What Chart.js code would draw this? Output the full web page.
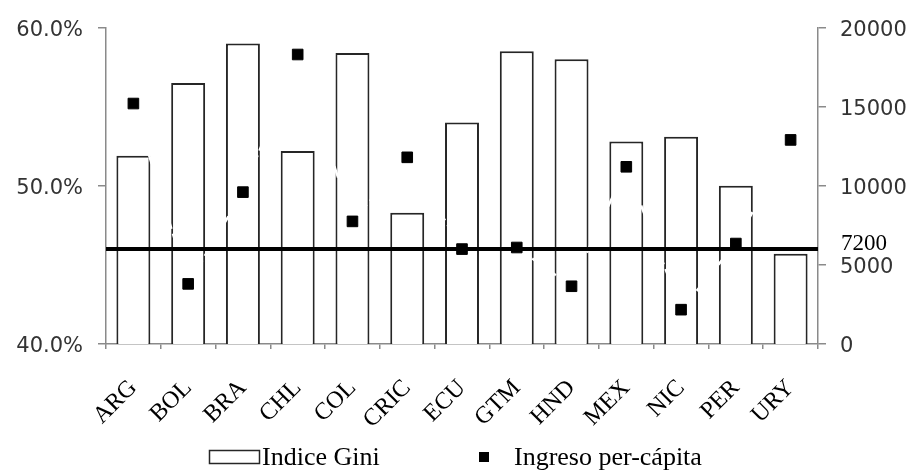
<!DOCTYPE html>
<html>
<head>
<meta charset="utf-8">
<script src="https://cdn.jsdelivr.net/npm/chart.js@4.4.1/dist/chart.umd.min.js"></script>
<style>
  html, body { margin: 0; padding: 0; background: #fff; }
  #wrap { width: 914px; height: 470px; position: relative; }
</style>
</head>
<body>
<div id="wrap"><canvas id="c"></canvas></div>
<script>
// Countries and their indicators
const countries = ['ARG', 'BOL', 'BRA', 'CHL', 'COL', 'CRIC', 'ECU', 'GTM', 'HND', 'MEX', 'NIC', 'PER', 'URY'];
const giniPct = [51.9, 56.5, 59.0, 52.2, 58.4, 48.3, 54.0, 58.5, 58.0, 52.8, 53.1, 50.0, 45.7];
const incomePerCapita = [15200, 3800, 9600, 18300, 7750, 11800, 6000, 6100, 3650, 11200, 2170, 6350, 12900];
const incomeReference = 7200;
const seriesNames = ['Indice Gini', 'Ingreso per-cápita'];
const giniTicks = [40, 50, 60];
const incomeTicks = [0, 5000, 10000, 15000, 20000];

const AXIS_GREY = '#8a8a8a';
const SANS = '"DejaVu Sans", sans-serif';
const SERIF = '"Liberation Serif", "Times New Roman", serif';

// Reference-level label next to the right axis
const referenceLabel = {
  id: 'referenceLabel',
  afterDatasetsDraw(chart) {
    const ctx = chart.ctx;
    const y = chart.scales.yRef.getPixelForValue(incomeReference);
    const x = chart.scales.y1.left + 23;
    ctx.save();
    ctx.font = '23px ' + SERIF;
    ctx.fillStyle = '#000';
    ctx.textAlign = 'left';
    ctx.textBaseline = 'alphabetic';
    ctx.fillText(String(incomeReference), x, y + 1);
    ctx.restore();
  }
};

// Legend row under the category labels
const legendRow = {
  id: 'legendRow',
  afterDraw(chart) {
    const ctx = chart.ctx;
    const ds = chart.data.datasets;
    const baseline = 465;
    ctx.save();
    ctx.font = '26px ' + SERIF;
    ctx.textBaseline = 'alphabetic';
    // bar swatch
    ctx.fillStyle = '#fff';
    ctx.fillRect(209, 450, 51, 14);
    ctx.strokeStyle = '#262626';
    ctx.lineWidth = 1.5;
    ctx.strokeRect(209.5, 450.5, 50, 13);
    ctx.fillStyle = '#000';
    ctx.fillText(ds[0].label, 262, baseline);
    // point swatch
    ctx.fillRect(479, 452, 10, 10);
    ctx.fillText(ds[1].label, 514, baseline);
    ctx.restore();
  }
};

new Chart(document.getElementById('c'), {
  type: 'bar',
  data: {
    labels: countries,
    datasets: [
      {
        type: 'bar',
        label: seriesNames[0],
        data: giniPct,
        yAxisID: 'y',
        backgroundColor: '#fff',
        borderColor: '#262626',
        borderWidth: 2,
        barPercentage: 0.62,
        categoryPercentage: 1,
        grouped: false,
        order: 3
      },
      {
        type: 'line',
        label: seriesNames[1],
        data: incomePerCapita,
        yAxisID: 'y1',
        showLine: false,
        pointStyle: 'rect',
        pointRadius: 7.5,
        pointHoverRadius: 7.5,
        pointBackgroundColor: '#000',
        pointBorderColor: '#000',
        pointBorderWidth: 1,
        order: 0
      },
      {
        type: 'line',
        label: 'enlace',
        data: incomePerCapita,
        yAxisID: 'y1',
        borderColor: '#fff',
        borderWidth: 2.5,
        borderDash: [12, 5],
        pointRadius: 0,
        tension: 0,
        order: 2
      },
      {
        type: 'line',
        label: 'referencia',
        data: [{ x: 0, y: incomeReference }, { x: countries.length, y: incomeReference }],
        xAxisID: 'xRef',
        yAxisID: 'yRef',
        borderColor: '#000',
        borderWidth: 4,
        pointRadius: 0,
        order: 1
      }
    ]
  },
  options: {
    responsive: true,
    maintainAspectRatio: false,
    animation: false,
    devicePixelRatio: 1,
    layout: { padding: { top: 22, left: 0, right: 0, bottom: 0 } },
    plugins: {
      legend: { display: false },
      tooltip: { enabled: false }
    },
    scales: {
      x: {
        type: 'category',
        offset: true,
        grid: { offset: true, drawOnChartArea: false, drawTicks: true, tickLength: 5, color: AXIS_GREY, lineWidth: 1.5 },
        border: { color: AXIS_GREY, width: 1.5 },
        ticks: {
          font: { family: SERIF, size: 24 },
          color: '#000',
          minRotation: 45,
          maxRotation: 45,
          autoSkip: false,
          padding: 25
        },
        afterFit(scale) { scale.height = 126; }
      },
      xRef: { type: 'linear', display: false, offset: false, min: 0, max: countries.length },
      y: {
        position: 'left',
        min: giniTicks[0],
        max: giniTicks[giniTicks.length - 1],
        grid: { drawOnChartArea: false, tickLength: 8, color: AXIS_GREY, lineWidth: 1.5 },
        border: { color: AXIS_GREY, width: 1.5 },
        ticks: {
          stepSize: giniTicks[1] - giniTicks[0],
          callback: v => v.toFixed(1) + '%',
          font: { family: SANS, size: 21 },
          color: '#333',
          padding: 15,
          labelOffset: 3
        },
        afterFit(scale) { scale.width = 106; }
      },
      y1: {
        position: 'right',
        min: incomeTicks[0],
        max: incomeTicks[incomeTicks.length - 1],
        grid: { drawOnChartArea: false, tickLength: 8, color: AXIS_GREY, lineWidth: 1.5 },
        border: { color: AXIS_GREY, width: 1.5 },
        ticks: {
          stepSize: incomeTicks[1] - incomeTicks[0],
          callback: v => String(v),
          font: { family: SANS, size: 21 },
          color: '#333',
          padding: 14,
          labelOffset: 3
        },
        afterFit(scale) { scale.width = 96; }
      },
      yRef: { type: 'linear', display: false, min: 0, max: 24000 }
    }
  },
  plugins: [referenceLabel, legendRow]
});
</script>
</body>
</html>
